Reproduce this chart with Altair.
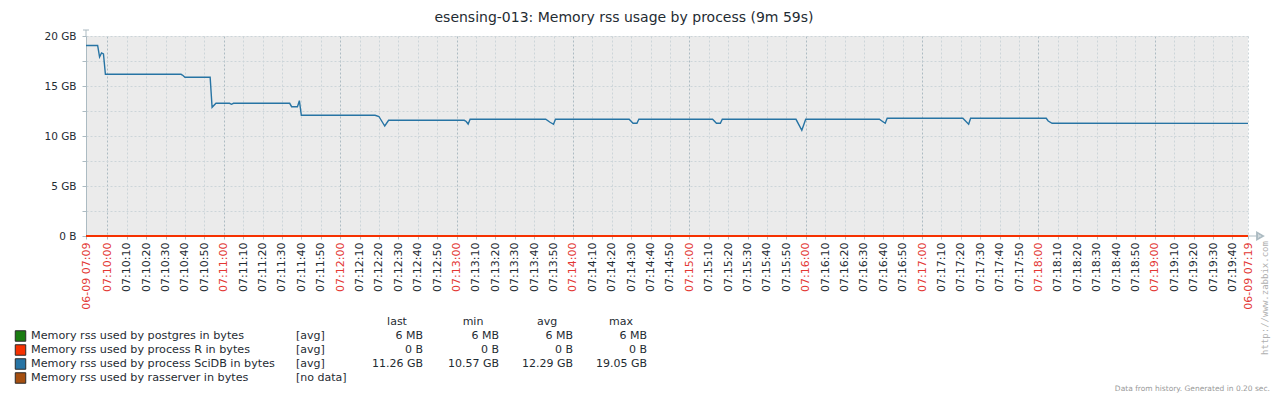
import altair as alt
import pandas as pd

FONT = "DejaVu Sans"
TEXT = "#1F2C33"
RED = "#E33734"

# ---------------- data ----------------
start_time = "07:09:49"
end_time = "07:19:48"

scidb_times = [
    "07:09:49", "07:09:55", "07:09:56", "07:09:57", "07:09:58", "07:09:59",
    "07:10:38", "07:10:39", "07:10:40", "07:10:53", "07:10:54", "07:10:56",
    "07:11:03", "07:11:04", "07:11:05", "07:11:34", "07:11:35", "07:11:38",
    "07:11:39", "07:11:40", "07:12:18", "07:12:20", "07:12:23", "07:12:25",
    "07:13:04", "07:13:05", "07:13:06", "07:13:07", "07:13:46", "07:13:48",
    "07:13:50", "07:13:51", "07:14:29", "07:14:31", "07:14:33", "07:14:34",
    "07:15:12", "07:15:14", "07:15:16", "07:15:17", "07:15:55", "07:15:58",
    "07:16:00", "07:16:38", "07:16:40", "07:16:41", "07:16:42", "07:17:21",
    "07:17:24", "07:17:25", "07:18:04", "07:18:05", "07:18:07", "07:19:48",
]
scidb_gb = [
    19.05, 19.05, 17.9, 18.3, 18.2, 16.17,
    16.17, 16.05, 15.87, 15.87, 12.87, 13.27,
    13.27, 13.17, 13.27, 13.27, 12.93, 12.93,
    13.53, 12.07, 12.07, 11.95, 11.0, 11.57,
    11.57, 11.45, 11.2, 11.67, 11.67, 11.4,
    11.17, 11.67, 11.67, 11.27, 11.27, 11.67,
    11.67, 11.27, 11.27, 11.67, 11.67, 10.57,
    11.67, 11.67, 11.4, 11.27, 11.77, 11.77,
    11.17, 11.77, 11.77, 11.5, 11.27, 11.26,
]
r_times = ["07:09:49", "07:19:48"]
r_gb = [0.0, 0.0]
pg_times = ["07:09:49", "07:19:48"]
pg_gb = [0.006, 0.006]

y_ticks = [0, 2.5, 5, 7.5, 10, 12.5, 15, 17.5, 20]

legend_names = [
    "Memory rss used by postgres in bytes",
    "Memory rss used by process R in bytes",
    "Memory rss used by process SciDB in bytes",
    "Memory rss used by rasserver in bytes",
]
legend_colors = ["#1A7C11", "#F63100", "#2774A4", "#A54F10"]
legend_func = ["[avg]", "[avg]", "[avg]", "[no data]"]
stat_headers = ["last", "min", "avg", "max"]
stat_last = ["6 MB", "0 B", "11.26 GB", ""]
stat_min = ["6 MB", "0 B", "10.57 GB", ""]
stat_avg = ["6 MB", "0 B", "12.29 GB", ""]
stat_max = ["6 MB", "0 B", "19.05 GB", ""]

title_text = "esensing-013: Memory rss usage by process (9m 59s)"
footer_text = "Data from history. Generated in 0.20 sec."
watermark_text = "http://www.zabbix.com"


def to_sec(t):
    h, m, s = map(int, t.split(":"))
    return h * 3600 + m * 60 + s


t0 = to_sec(start_time)
span = to_sec(end_time) - t0

df_scidb = pd.DataFrame({"t": [to_sec(t) - t0 for t in scidb_times], "gb": scidb_gb})
df_r = pd.DataFrame({"t": [to_sec(t) - t0 for t in r_times], "gb": r_gb})
df_pg = pd.DataFrame({"t": [to_sec(t) - t0 for t in pg_times], "gb": pg_gb})

x_ticks = [0] + list(range(11, span - 7, 10)) + [span]

W, H = 1162, 200

xs = alt.Scale(domain=[0, span], nice=False, zero=False)
ys = alt.Scale(domain=[0, 20], nice=False)

red_test = f"datum.value == 0 || datum.value == {span} || (datum.value - 11) % 60 == 0"
x_label_expr = (
    f"datum.value == 0 ? '06-09 07:09' : datum.value == {span} ? '06-09 07:19' : "
    f"timeFormat(datetime(2021, 5, 9, 7, 9, 49 + datum.value), '%H:%M:%S')"
)

x_axis = alt.Axis(
    values=x_ticks, labelExpr=x_label_expr, labelAngle=270, labelAlign="right",
    labelBaseline="middle", labelPadding=3, labelOverlap=False, labelFlush=False,
    labelBound=False, labelFont=FONT, labelFontSize=11,
    labelColor={"condition": {"test": red_test, "value": RED}, "value": TEXT},
    grid=True, gridDash=[2, 2],
    gridColor={"condition": {"test": "(datum.value - 11) % 60 == 0", "value": "#ACBBC2"},
               "value": "#CCD5D9"},
    ticks=True, tickSize=3, tickColor="#ACBBC2", domain=False, title=None,
)
y_axis = alt.Axis(
    values=y_ticks,
    labelExpr="datum.value % 5 == 0 ? (datum.value == 0 ? '0 B' : datum.value + ' GB') : ''",
    labelFont=FONT, labelFontSize=10.5, labelColor=TEXT, labelPadding=6,
    grid=True, gridDash=[2, 2], gridColor="#CCD5D9",
    domain=True, domainColor="#ACBBC2", tickColor="#ACBBC2", tickSize=4, title=None,
)

blue = alt.Chart(df_scidb).mark_line(color="#2774A4", strokeWidth=1.4).encode(
    x=alt.X("t:Q", scale=xs, axis=x_axis), y=alt.Y("gb:Q", scale=ys, axis=y_axis))
green = alt.Chart(df_pg).mark_line(color="#1A7C11", strokeWidth=2).encode(
    x=alt.X("t:Q", scale=xs, axis=x_axis), y=alt.Y("gb:Q", scale=ys, axis=None))
red = alt.Chart(df_r).mark_line(color="#F63100", strokeWidth=2).encode(
    x=alt.X("t:Q", scale=xs, axis=x_axis), y=alt.Y("gb:Q", scale=ys, axis=None))

# axis arrows (decoration)
deco = pd.DataFrame({"k": [0]})
y_stub = alt.Chart(deco).mark_rule(color="#ACBBC2").encode(
    x=alt.value(0), y=alt.value(-6), y2=alt.value(0))
y_cap = alt.Chart(deco).mark_rule(color="#ACBBC2").encode(
    x=alt.value(-3), x2=alt.value(3), y=alt.value(-6))
x_stub = alt.Chart(deco).mark_rule(color="#ACBBC2").encode(
    x=alt.value(W), x2=alt.value(W + 12), y=alt.value(H))
x_arrow = alt.Chart(deco).mark_point(shape="triangle-right", filled=False, color="#ACBBC2",
                                     size=45, opacity=1).encode(
    x=alt.value(W + 12), y=alt.value(H))

# title / footer / watermark
title = alt.Chart(pd.DataFrame({"s": [title_text]})).mark_text(
    font=FONT, fontSize=14, color=TEXT, align="center", baseline="middle").encode(
    x=alt.value(538), y=alt.value(-18), text="s:N")
footer = alt.Chart(pd.DataFrame({"s": [footer_text]})).mark_text(
    font=FONT, fontSize=7.5, color="#9A9A9A", align="right", baseline="middle").encode(
    x=alt.value(1184), y=alt.value(353), text="s:N")
watermark = alt.Chart(pd.DataFrame({"s": [watermark_text]})).mark_text(
    font="DejaVu Sans Mono", fontSize=9, color="#B0B0B0", align="center", baseline="middle",
    angle=270).encode(x=alt.value(1179), y=alt.value(262), text="s:N")

# legend
df_leg = pd.DataFrame({
    "row": list(range(len(legend_names))), "name": legend_names, "color": legend_colors,
    "func": legend_func, "last": stat_last, "min": stat_min, "avg": stat_avg, "max": stat_max,
})
row_scale = alt.Scale(domain=[0, 3], range=[300, 342])
leg_y = alt.Y("row:Q", scale=row_scale, axis=None)

leg_sq = alt.Chart(df_leg).mark_square(size=110, opacity=1, stroke="#2A2A2A",
                                        strokeWidth=1).encode(
    x=alt.value(-65.5), y=leg_y, fill=alt.Fill("color:N", scale=None))
leg_name = alt.Chart(df_leg).mark_text(font=FONT, fontSize=11.2, color=TEXT, align="left",
                                       baseline="middle").encode(
    x=alt.value(-55), y=leg_y, text="name:N")
leg_func = alt.Chart(df_leg).mark_text(font=FONT, fontSize=11, color=TEXT, align="left",
                                       baseline="middle").encode(
    x=alt.value(210), y=leg_y, text="func:N")

stat_right = [337, 413, 487, 561]
stat_fields = ["last", "min", "avg", "max"]
stat_layers = []
for hdr, fld, xr in zip(stat_headers, stat_fields, stat_right):
    stat_layers.append(alt.Chart(df_leg).mark_text(
        font=FONT, fontSize=11, color=TEXT, align="right", baseline="middle").encode(
        x=alt.value(xr), y=leg_y, text=f"{fld}:N"))
    stat_layers.append(alt.Chart(pd.DataFrame({"s": [hdr]})).mark_text(
        font=FONT, fontSize=11, color=TEXT, align="center", baseline="middle").encode(
        x=alt.value(xr - 26), y=alt.value(286), text="s:N"))

chart = alt.layer(
    blue, green, red, y_stub, y_cap, x_stub, x_arrow, title, footer, watermark,
    leg_sq, leg_name, leg_func, *stat_layers,
).resolve_scale(y="independent").properties(
    width=W, height=H,
    padding={"left": 78, "top": 28, "right": 23, "bottom": 160},
    autosize=alt.AutoSizeParams(type="none"),
    background="white",
).configure_view(fill="#EBEBEB", stroke=None)

chart.save("out.html", embed_options={"renderer": "svg", "actions": False})
